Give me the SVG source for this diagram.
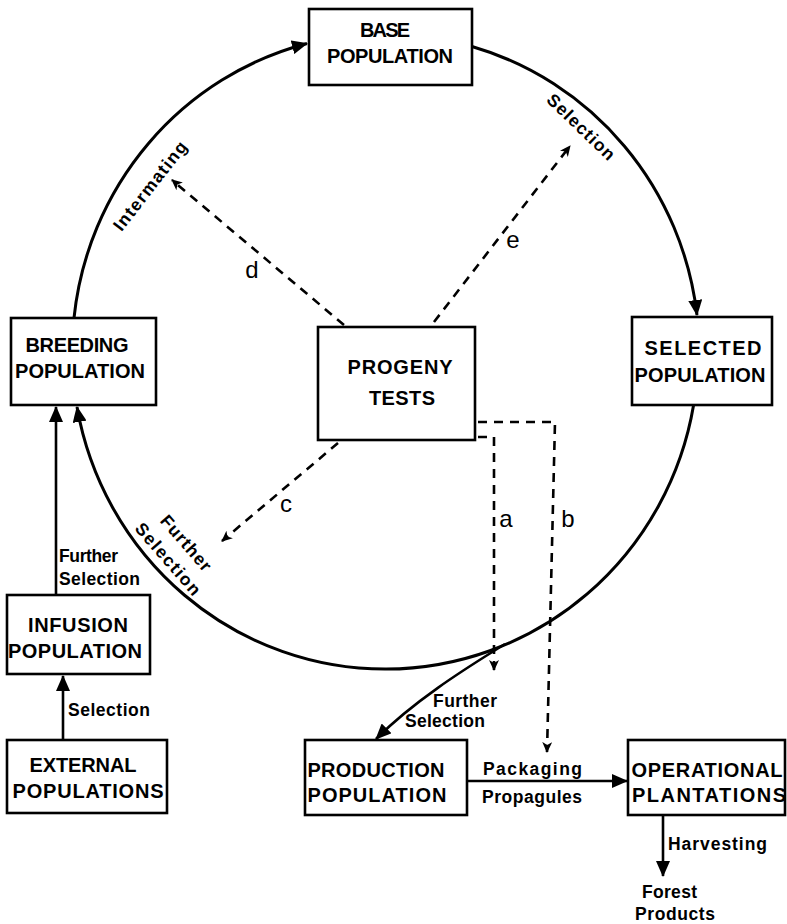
<svg xmlns="http://www.w3.org/2000/svg" width="787" height="924" viewBox="0 0 787 924">
<style>
.box{fill:#fff;stroke:#000;stroke-width:2.6}
.bt{font-family:"Liberation Sans",Arial,sans-serif;font-weight:bold;font-size:20px;fill:#000;text-anchor:middle}
.lb{font-family:"Liberation Sans",Arial,sans-serif;font-weight:bold;font-size:17.5px;fill:#000}
.lt{font-family:"Liberation Sans",Arial,sans-serif;font-size:24px;fill:#000;text-anchor:middle}
.arc{fill:none;stroke:#000;stroke-width:3}
.sol{fill:none;stroke:#000;stroke-width:2.6}
.dash{fill:none;stroke:#000;stroke-width:2.6;stroke-dasharray:9 7}
</style>
<defs>
<marker id="ah" markerUnits="userSpaceOnUse" markerWidth="16" markerHeight="14" refX="15" refY="7" orient="auto">
<path d="M0,0 L16,7 L0,14 z" fill="#000"/>
</marker>
<marker id="as" markerUnits="userSpaceOnUse" markerWidth="11" markerHeight="10" refX="10" refY="5" orient="auto">
<path d="M0,0 L11,5 L0,10 L3,5 z" fill="#000"/>
</marker>
</defs>
<g id="connectors">
<path class="arc" d="M74,318 A313,318 0 0,1 307,43.5" marker-end="url(#ah)"/>
<path class="arc" d="M472,46.5 A313,318 0 0,1 697,315" marker-end="url(#ah)"/>
<path class="arc" d="M693.6,405 A313,318 0 0,1 77,407" marker-end="url(#ah)"/>
<path class="sol" d="M505,644 C480,660 420,695 376,739" marker-end="url(#ah)"/>
<path class="sol" d="M56,595 V407" marker-end="url(#ah)"/>
<path class="sol" d="M63,740 V676" marker-end="url(#ah)"/>
<path class="sol" d="M467,781 H627" marker-end="url(#ah)"/>
<path class="sol" d="M663,815 V876" marker-end="url(#ah)"/>
<path class="dash" d="M344,325 L172,180" marker-end="url(#as)"/>
<path class="dash" d="M434,322 L570,146" marker-end="url(#as)"/>
<path class="dash" d="M338,443 L222,541" marker-end="url(#as)"/>
<path class="dash" d="M478,437 H494 V670" marker-end="url(#as)"/>
<path class="dash" d="M478,422 H555 L547,752" marker-end="url(#as)"/>
<text class="lb" transform="translate(150,186) rotate(-52)" x="0" y="6" text-anchor="middle" textLength="108">Intermating</text>
<text class="lb" transform="translate(581,127) rotate(44)" x="0" y="6" text-anchor="middle" textLength="87">Selection</text>
<text class="lb" transform="translate(186,543) rotate(49)" x="0" y="6" text-anchor="middle" textLength="68">Further</text>
<text class="lb" transform="translate(168,559) rotate(49)" x="0" y="6" text-anchor="middle" textLength="90">Selection</text>
<text class="lb" x="59" y="562" textLength="59">Further</text>
<text class="lb" x="59" y="585" textLength="81">Selection</text>
<text class="lb" x="68" y="716" textLength="82">Selection</text>
<text class="lb" x="433" y="707" textLength="64">Further</text>
<text class="lb" x="405" y="727" textLength="80">Selection</text>
<text class="lb" x="483" y="775" textLength="99">Packaging</text>
<text class="lb" x="482" y="803" textLength="100">Propagules</text>
<text class="lb" x="668" y="850" textLength="99">Harvesting</text>
<text class="lb" x="642" y="898" textLength="55">Forest</text>
<text class="lb" x="635" y="920" textLength="80">Products</text>
<text class="lt" x="252" y="278">d</text>
<text class="lt" x="513" y="248">e</text>
<text class="lt" x="286" y="512">c</text>
<text class="lt" x="506" y="527">a</text>
<text class="lt" x="568" y="527">b</text>
</g>
<g id="base">
<rect class="box" x="309" y="9" width="163" height="76"/>
<text class="bt" x="385" y="37" textLength="50">BASE</text>
<text class="bt" x="390" y="63" textLength="126">POPULATION</text>
</g>
<g id="breeding">
<rect class="box" x="11" y="318" width="145" height="87"/>
<text class="bt" x="77" y="352" textLength="103">BREEDING</text>
<text class="bt" x="80" y="378" textLength="130">POPULATION</text>
</g>
<g id="progeny">
<rect class="box" x="318" y="327" width="157" height="113"/>
<text class="bt" x="400" y="374" textLength="105">PROGENY</text>
<text class="bt" x="402" y="405" textLength="66">TESTS</text>
</g>
<g id="selected">
<rect class="box" x="632" y="317" width="140" height="88"/>
<text class="bt" x="703" y="355" textLength="117">SELECTED</text>
<text class="bt" x="700" y="382" textLength="131">POPULATION</text>
</g>
<g id="infusion">
<rect class="box" x="7" y="595" width="143" height="79"/>
<text class="bt" x="78" y="632" textLength="100">INFUSION</text>
<text class="bt" x="75" y="658" textLength="134">POPULATION</text>
</g>
<g id="external">
<rect class="box" x="7" y="740" width="160" height="73"/>
<text class="bt" x="83" y="772" textLength="107">EXTERNAL</text>
<text class="bt" x="88" y="798" textLength="151">POPULATIONS</text>
</g>
<g id="production">
<rect class="box" x="305" y="740" width="162" height="75"/>
<text class="bt" x="376" y="777" textLength="137">PRODUCTION</text>
<text class="bt" x="377" y="802" textLength="139">POPULATION</text>
</g>
<g id="operational">
<rect class="box" x="628" y="740" width="157" height="75"/>
<text class="bt" x="707" y="777" textLength="151">OPERATIONAL</text>
<text class="bt" x="709" y="802" textLength="154">PLANTATIONS</text>
</g>
</svg>
